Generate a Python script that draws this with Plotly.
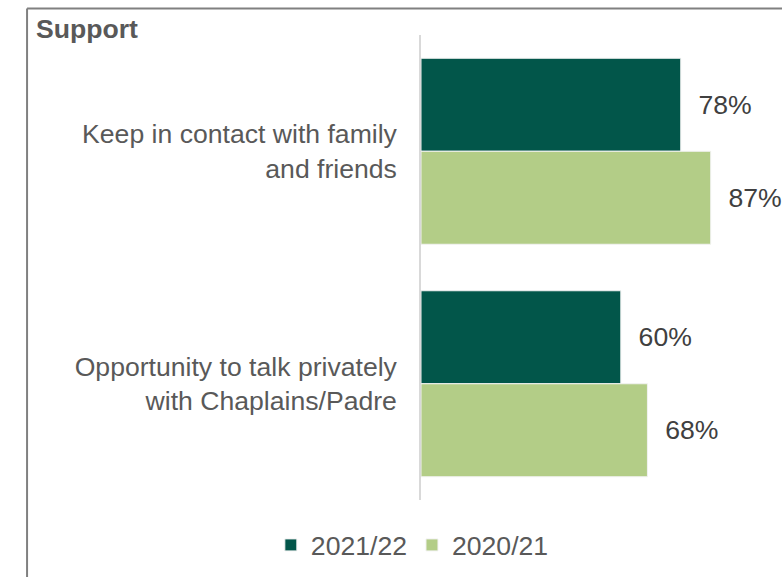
import plotly.graph_objects as go

# Survey results: share of respondents satisfied with each support item
categories = [
    "Keep in contact with family<br>and friends",
    "Opportunity to talk privately<br>with Chaplains/Padre",
]
series_names = ["2021/22", "2020/21"]
values_2122 = [78, 60]
values_2021 = [87, 68]

dark_green = "#02564A"
light_green = "#B3CD87"
font_family = "Arial, Liberation Sans, sans-serif"
fs = 26.6

fig = go.Figure()
for name, vals, color in [
    (series_names[0], values_2122, dark_green),
    (series_names[1], values_2021, light_green),
]:
    fig.add_trace(
        go.Bar(
            name=name,
            y=categories,
            x=vals,
            orientation="h",
            marker=dict(color=color, line=dict(color="#f2f2f2", width=1)),
            texttemplate="\u00a0\u00a0%{x}%",
            textposition="outside",
            constraintext="none",
            cliponaxis=False,
            textfont=dict(size=fs, color="#404040", family=font_family),
            hoverinfo="skip",
        )
    )

# chart frame (top and left edges)
frame_x = -1.183
frame_y = 1.057
fig.add_shape(type="line", xref="paper", yref="paper",
              x0=frame_x, x1=frame_x, y0=frame_y, y1=-0.3,
              line=dict(color="#808080", width=2))
fig.add_shape(type="line", xref="paper", yref="paper",
              x0=frame_x, x1=1.3, y0=frame_y, y1=frame_y,
              line=dict(color="#808080", width=2))

fig.add_annotation(
    text="<b>Support</b>", xref="paper", yref="paper",
    x=-1.163, y=1.012, xanchor="left", yanchor="middle",
    showarrow=False, font=dict(size=fs, color="#595959", family=font_family),
)

fig.update_layout(
    width=782,
    height=577,
    margin=dict(l=421, r=28, t=35, b=77, autoexpand=False),
    paper_bgcolor="white",
    plot_bgcolor="white",
    barmode="group",
    bargap=0.2,
    bargroupgap=0,
    font=dict(family=font_family, size=fs, color="#595959"),
    showlegend=True,
    legend=dict(
        orientation="h",
        x=-0.026, xanchor="center",
        y=-0.097, yanchor="middle",
        font=dict(size=fs, color="#595959"),
        traceorder="normal",
    ),
    xaxis=dict(range=[0, 100], visible=False, showgrid=False, zeroline=False),
    yaxis=dict(
        autorange="reversed",
        showline=True,
        linecolor="#d9d9d9",
        linewidth=1.5,
        ticks="",
        showgrid=False,
        ticklabelstandoff=17,
        tickfont=dict(size=fs, color="#595959"),
    ),
)

fig.write_html("out.html")
